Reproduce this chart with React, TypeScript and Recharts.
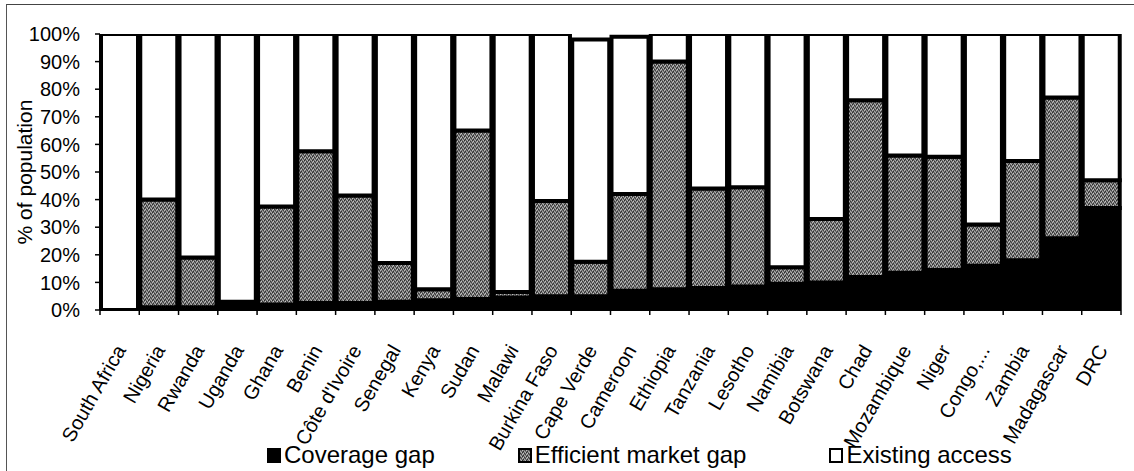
import { BarChart, Bar, XAxis, YAxis, Legend } from 'recharts'

const countries = [
  'South Africa', 'Nigeria', 'Rwanda', 'Uganda', 'Ghana', 'Benin', "Côte d'Ivoire", 'Senegal',
  'Kenya', 'Sudan', 'Malawi', 'Burkina Faso', 'Cape Verde', 'Cameroon', 'Ethiopia', 'Tanzania',
  'Lesotho', 'Namibia', 'Botswana', 'Chad', 'Mozambique', 'Niger', 'Congo,...', 'Zambia',
  'Madagascar', 'DRC',
]
// share of population, %
const coverageGap = [0, 1, 1, 1.5, 2, 2.5, 2.5, 3, 3.5, 4, 4.5, 5, 5, 7, 7.5, 8, 8.5, 9.5, 10, 12, 13.5, 14.5, 16, 18, 26, 37]
const efficientGap = [0, 39, 18, 1.5, 35.5, 55, 39, 14, 4, 61, 2, 34.5, 12.5, 35, 82.5, 36, 36, 6, 23, 64, 42.5, 41, 15, 36, 51, 10]
const existingAccess = [100, 60, 81, 97, 62.5, 42.5, 58.5, 83, 92.5, 35, 93.5, 60.5, 80.5, 57, 10, 56, 55.5, 84.5, 67, 24, 44, 44.5, 69, 46, 23, 53]
const yTicks = [0, 10, 20, 30, 40, 50, 60, 70, 80, 90, 100]

const seriesNames = ['Coverage gap', 'Efficient market gap', 'Existing access']

const data = countries.map((name, i) => ({
  name,
  coverage: coverageGap[i],
  efficient: efficientGap[i],
  existing: existingAccess[i],
}))

const FONT = '"Liberation Sans", Arial, sans-serif'

function CountryTick(props: any) {
  const { x, y, payload, index } = props
  const half = payload?.offset || 19.6
  return (
    <g>
      <line x1={x - half} y1={y} x2={x - half} y2={y + 5} stroke="#000" strokeWidth={1.5} />
      {index === countries.length - 1 && (
        <line x1={x + half} y1={y} x2={x + half} y2={y + 5} stroke="#000" strokeWidth={1.5} />
      )}
      <text
        x={0} y={0}
        transform={`translate(${x + 7},${y + 40}) rotate(-60)`}
        textAnchor="end" fontSize={20} fontFamily={FONT} fill="#000"
      >
        {payload.value}
      </text>
    </g>
  )
}

function LegendIcon({ kind }: { kind: number }) {
  const fill = kind === 0 ? '#000' : kind === 1 ? 'url(#grain)' : '#fff'
  return (
    <svg width={14} height={15} style={{ marginRight: 3 }}>
      <rect x={1} y={1} width={12} height={13} fill={fill} stroke="#000" strokeWidth={2} />
    </svg>
  )
}

function renderLegend() {
  return (
    <div style={{ display: 'flex', alignItems: 'center', gap: 83, paddingLeft: 267, fontFamily: FONT, fontSize: 24, lineHeight: '26px', color: '#000' }}>
      {seriesNames.map((s, i) => (
        <div key={s} style={{ display: 'flex', alignItems: 'center' }}>
          <LegendIcon kind={i} />
          <span>{s}</span>
        </div>
      ))}
    </div>
  )
}

export default function App() {
  return (
    <div style={{ position: 'fixed', left: 0, top: 0, width: 1134, height: 471, background: '#fff' }}>
      <BarChart
        width={1134} height={471} data={data}
        margin={{ top: 34, right: 13, left: 0, bottom: 0 }}
        barCategoryGap={1}
      >
        <defs>
          <pattern id="grain" width={4} height={4} patternUnits="userSpaceOnUse">
            <rect width={4} height={4} fill="#737373" />
            <rect x={0} y={0} width={1} height={1} fill="#2a2a2a" />
            <rect x={2} y={1} width={1} height={1} fill="#363636" />
            <rect x={1} y={3} width={1} height={1} fill="#303030" />
            <rect x={3} y={2} width={1} height={1} fill="#404040" />
            <rect x={1} y={1} width={1} height={1} fill="#c6c6c6" />
            <rect x={3} y={0} width={1} height={1} fill="#b4b4b4" />
            <rect x={0} y={2} width={1} height={1} fill="#bcbcbc" />
            <rect x={2} y={3} width={1} height={1} fill="#a8a8a8" />
          </pattern>
        </defs>
        <XAxis
          dataKey="name" interval={0} height={161}
          axisLine={{ stroke: '#000', strokeWidth: 2 }}
          tickLine={false} tickSize={0} tickMargin={0}
          tick={<CountryTick />}
        />
        <YAxis
          width={100} domain={[0, 100]} ticks={yTicks} interval={0} allowDataOverflow
          tickFormatter={(v: number) => `${v}%`}
          axisLine={{ stroke: '#000', strokeWidth: 2 }}
          tickLine={{ stroke: '#000', strokeWidth: 1.5 }} tickSize={5} tickMargin={15}
          tick={{ fontSize: 20, fontFamily: FONT, fill: '#000' }}
          label={{
            content: (p: any) => {
              const vb = p.viewBox || { y: 34, height: 276 }
              const cy = vb.y + vb.height / 2
              return (
                <text x={24} y={cy} transform={`rotate(-90 24 ${cy})`} textAnchor="middle"
                  dominantBaseline="central" fontSize={21} fontFamily={FONT} fill="#000">
                  % of population
                </text>
              )
            },
          }}
        />
        <Legend
          layout="horizontal" verticalAlign="middle" align="center"
          wrapperStyle={{ top: 442, left: 0, width: 1134 }}
          content={renderLegend}
        />
        <Bar dataKey="coverage" name={seriesNames[0]} stackId="a" fill="#000" stroke="#000" strokeWidth={4} isAnimationActive={false} />
        <Bar dataKey="efficient" name={seriesNames[1]} stackId="a" fill="url(#grain)" stroke="#000" strokeWidth={4} isAnimationActive={false} />
        <Bar dataKey="existing" name={seriesNames[2]} stackId="a" fill="#fff" stroke="#000" strokeWidth={4} isAnimationActive={false} />
      </BarChart>
      {/* thin page frame along the top and left edges */}
      <div style={{ position: 'absolute', left: 6, top: 4, right: 0, bottom: 0, borderTop: '1.5px solid #444', borderLeft: '1.5px solid #555', pointerEvents: 'none' }} />
    </div>
  )
}
